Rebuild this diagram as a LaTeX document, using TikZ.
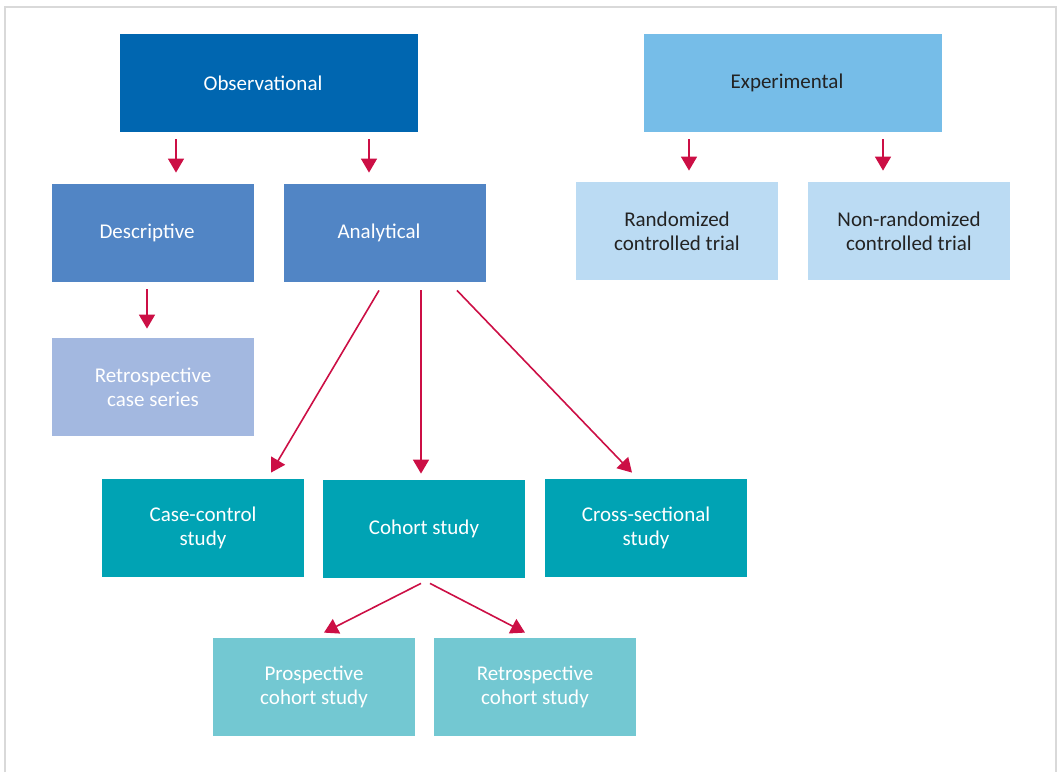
\documentclass[tikz,border=0pt]{standalone}
\usepackage{fontspec}
\setmainfont{Carlito}
\usetikzlibrary{positioning, calc, arrows.meta}

\definecolor{obsblue}{RGB}{0,102,176}
\definecolor{expblue}{RGB}{118,189,232}
\definecolor{midblue}{RGB}{81,133,197}
\definecolor{paleblue}{RGB}{187,219,243}
\definecolor{greyblue}{RGB}{163,184,224}
\definecolor{teal}{RGB}{0,163,180}
\definecolor{paleteal}{RGB}{115,200,210}
\definecolor{arrowred}{RGB}{204,15,69}
\definecolor{framegrey}{RGB}{217,217,217}
\definecolor{darktext}{RGB}{35,35,35}

\tikzset{
  box/.style={rectangle, minimum width=101pt, minimum height=49pt, inner sep=0pt,
    align=center, text=white, font=\fontsize{10.5}{12}\selectfont},
  widebox/.style={box, minimum width=149pt},
  leftish/.style={execute at end node={\hspace*{6pt}}},
  arr/.style={arrowred, line width=0.8pt, -{Triangle[width=8pt, length=7pt]}}
}

\begin{document}
\begin{tikzpicture}[x=0.5pt, y=-0.5pt]
\useasboundingbox (0,0) rectangle (1058,772);
\draw[framegrey, line width=0.8pt] (5,772) -- (5,7) -- (1056,7) -- (1056,772);

% top row
\node[widebox, leftish, fill=obsblue] (obs) at (269,83) {Observational};
\node[widebox, leftish, fill=expblue, text=darktext] (exp) at (793,83) {Experimental};

% second row
\node[box, leftish, fill=midblue] (desc) at (153,233) {Descriptive};
\node[box, leftish, fill=midblue] (ana) at (385,233) {Analytical};
\node[box, fill=paleblue, text=darktext] (rct) at (677,231) {Randomized\\controlled trial};
\node[box, fill=paleblue, text=darktext] (nrct) at (909,231) {Non-randomized\\controlled trial};

% third row
\node[box, fill=greyblue] (series) at (153,387) {Retrospective\\case series};

\node[box, fill=teal] (cc) at (203,528) {Case-control\\study};
\node[box, fill=teal] (cohort) at (424,529) {Cohort study};
\node[box, fill=teal] (cross) at (646,528) {Cross-sectional\\study};

\node[box, fill=paleteal] (pros) at (314,687) {Prospective\\cohort study};
\node[box, fill=paleteal] (retro) at (535,687) {Retrospective\\cohort study};

% short arrows
\draw[arr, shorten <=3.5pt, shorten >=5.5pt] (obs.south -| 176,0) -- (desc.north -| 176,0);
\draw[arr, shorten <=3.5pt, shorten >=5.5pt] (obs.south -| 369,0) -- (ana.north -| 369,0);
\draw[arr, shorten <=3.5pt, shorten >=5.5pt] (exp.south -| 689,0) -- (rct.north -| 689,0);
\draw[arr, shorten <=3.5pt, shorten >=5.5pt] (exp.south -| 883,0) -- (nrct.north -| 883,0);
\draw[arr, shorten <=3.5pt, shorten >=4.5pt] (desc.south -| 147,0) -- (series.north -| 147,0);

% analytical branches
\draw[arr] ($(ana.south)+(-6,8)$) -- ($(cc.north)+(68,-6)$);
\draw[arr] ($(ana.south)+(36,8)$) -- ($(cohort.north)+(-3,-6)$);
\draw[arr] ($(ana.south)+(72,8)$) -- ($(cross.north)+(-14,-6)$);

% cohort branches
\draw[arr] ($(cohort.south)+(-3,5)$) -- ($(pros.north)+(10,-5)$);
\draw[arr] ($(cohort.south)+(6,5)$) -- ($(retro.north)+(-10,-5)$);

\end{tikzpicture}
\end{document}
